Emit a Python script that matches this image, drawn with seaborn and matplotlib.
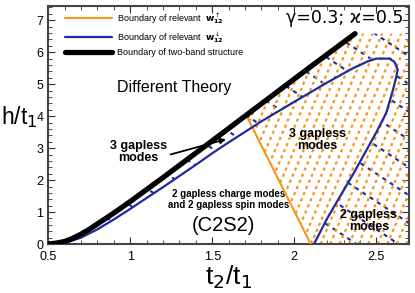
import numpy as np
import pandas as pd
import matplotlib
matplotlib.use("Agg")
import matplotlib.pyplot as plt
import seaborn as sns
from matplotlib.patches import Polygon
from matplotlib.ticker import MultipleLocator

# boundary of two-band structure (black)
black_x = [0.5, 0.55, 0.6, 0.65, 0.7, 0.75, 0.8, 0.85, 0.9, 1.0, 1.2, 1.5, 1.8, 2.1, 2.37]
black_y = [0.0, 0.03, 0.08, 0.18, 0.31, 0.46, 0.63, 0.8, 0.97, 1.33, 2.08, 3.23, 4.39, 5.55, 6.58]

# boundary of relevant w12 down (blue loop)
blue_x = [0.55, 0.6, 0.7, 0.8, 0.9, 1.0, 1.2, 1.4, 1.5, 1.6, 1.8, 2.0, 2.2, 2.35, 2.45, 2.5,
          2.58, 2.61, 2.63, 2.62, 2.6, 2.56, 2.5, 2.44, 2.36, 2.29, 2.2, 2.12]
blue_y = [0.0, 0.03, 0.2, 0.46, 0.77, 1.1, 1.78, 2.48, 2.84, 3.18, 3.84, 4.45, 5.05, 5.48, 5.72, 5.8,
          5.8, 5.7, 5.45, 5.2, 4.8, 4.1, 3.5, 2.94, 2.2, 1.59, 0.8, 0.0]

# boundary of relevant w12 up (orange)
orange_x = [2.1, 1.71]
orange_y = [0.0, 4.0]

xmin, xmax = 0.5, 2.7
ymin, ymax = 0.0, 7.45

c_orange = "#f7941d"
c_blue = "#1c2c9c"

sns.set_style("ticks")
plt.rcParams["font.family"] = ["Liberation Sans", "DejaVu Sans"]
plt.rcParams["mathtext.fontset"] = "dejavusans"
for k in ["text.color", "axes.labelcolor", "xtick.color", "ytick.color"]:
    plt.rcParams[k] = "black"

fig = plt.figure(figsize=(4.15, 2.93), dpi=100)
ax = fig.add_axes([0.116, 0.167, 0.870, 0.813])

# hatched regions
black_end = (black_x[-1], black_y[-1])
blue_region = list(zip(black_x, black_y)) + [(xmax, black_end[1]), (xmax, 0.0)] + list(zip(blue_x, blue_y))[::-1]
y_at_orange = np.interp(orange_x[1], black_x, black_y)
upper = [(x, y) for x, y in zip(black_x, black_y) if x > orange_x[1]]
orange_region = [(orange_x[0], orange_y[0]), (orange_x[1], y_at_orange)] + upper + \
    [(xmax, black_end[1]), (xmax, 0.0)]

blue_patch = Polygon(blue_region, closed=True, fill=False, lw=0, transform=ax.transData)
orange_patch = Polygon(orange_region, closed=True, fill=False, lw=0, transform=ax.transData)
ax.add_patch(blue_patch)
ax.add_patch(orange_patch)

for c in np.arange(0.3, 16, 0.87):
    xs = np.array([xmin, xmax + 0.2])
    ln, = ax.plot(xs, c - 3.4 * (xs - xmin), color=c_blue, lw=1.5, dashes=(2, 2.2), zorder=2)
    ln.set_clip_path(blue_patch)

for x0 in np.arange(1.0, 2.8, 0.058):
    ys = np.array([ymin, ymax])
    ln, = ax.plot(x0 + ys / 12.0, ys, color=c_orange, lw=1.6, dashes=(1.4, 1.6), zorder=2)
    ln.set_clip_path(orange_patch)

df_orange = pd.DataFrame({"x": orange_x, "y": orange_y})
df_blue = pd.DataFrame({"x": blue_x, "y": blue_y})
df_black = pd.DataFrame({"x": black_x, "y": black_y})

sns.lineplot(data=df_orange, x="x", y="y", sort=False, estimator=None, color=c_orange, lw=1.5,
             label=r"Boundary of relevant  $\mathbf{w}^{\uparrow}_{\mathbf{12}}$", ax=ax, zorder=4)
sns.lineplot(data=df_blue, x="x", y="y", sort=False, estimator=None, color=c_blue, lw=1.6,
             label=r"Boundary of relevant  $\mathbf{w}^{\downarrow}_{\mathbf{12}}$", ax=ax, zorder=4)
sns.lineplot(data=df_black, x="x", y="y", sort=False, estimator=None, color="black", lw=3.8,
             label="Boundary of two-band structure", ax=ax, zorder=5)

ax.set_xlim(xmin, xmax)
ax.set_ylim(ymin, ymax)
ax.xaxis.set_major_locator(MultipleLocator(0.5))
ax.xaxis.set_minor_locator(MultipleLocator(0.1))
ax.yaxis.set_major_locator(MultipleLocator(1))
ax.yaxis.set_minor_locator(MultipleLocator(0.2))
ax.set_xticks([0.5, 1, 1.5, 2, 2.5])
ax.set_xticklabels(["0.5", "1", "1.5", "2", "2.5"])
ax.tick_params(which="both", direction="in", top=True, right=True, labelsize=9, color="#333333")
ax.tick_params(which="major", length=5)
ax.tick_params(which="minor", length=3)
ax.tick_params(axis="y", pad=3.5)
ax.tick_params(axis="x", pad=5)
for s in ax.spines.values():
    s.set_color("#444444")
    s.set_linewidth(1.5)

ax.set_xlabel(r"t$_2$/t$_1$", fontsize=19, labelpad=0)
ax.set_ylabel(r"h/t$_1$", fontsize=16.5, rotation=0, labelpad=2)
ax.yaxis.set_label_coords(-0.081, 0.48)

leg = ax.legend(loc="upper left", bbox_to_anchor=(0.028, 1.005), frameon=False, fontsize=6.5,
                handlelength=5.3, labelspacing=0.42, borderaxespad=0.3, handletextpad=0.5)

ax.text(0.985, 0.985, "γ=0.3; ϰ=0.5", transform=ax.transAxes, ha="right", va="top",
        fontsize=12.5, family=["DejaVu Sans"])
ax.text(1.27, 4.9, "Different Theory", ha="center", va="center", fontsize=11.5)
ax.text(1.05, 2.88, "3 gapless\nmodes", ha="center", va="center", fontsize=9, fontweight="bold",
        linespacing=1.0)
ax.annotate("", xy=(1.6, 3.3), xytext=(1.23, 2.78),
            arrowprops=dict(arrowstyle="-|>", color="black", lw=1.3, mutation_scale=8), zorder=6)
ax.text(2.14, 3.25, "3 gapless\nmodes", ha="center", va="center", fontsize=9, fontweight="bold",
        linespacing=1.0, zorder=6)
ax.text(1.6, 1.39, "2 gapless charge modes\nand 2 gapless spin modes", ha="center", va="center",
        fontsize=7, fontweight="bold", linespacing=1.1)
ax.text(1.57, 0.59, "(C2S2)", ha="center", va="center", fontsize=14.5)
ax.text(2.455, 0.72, "2 gapless\nmodes", ha="center", va="center", fontsize=9, fontweight="bold",
        linespacing=1.0, zorder=6)

fig.savefig("out.png", dpi=100)
